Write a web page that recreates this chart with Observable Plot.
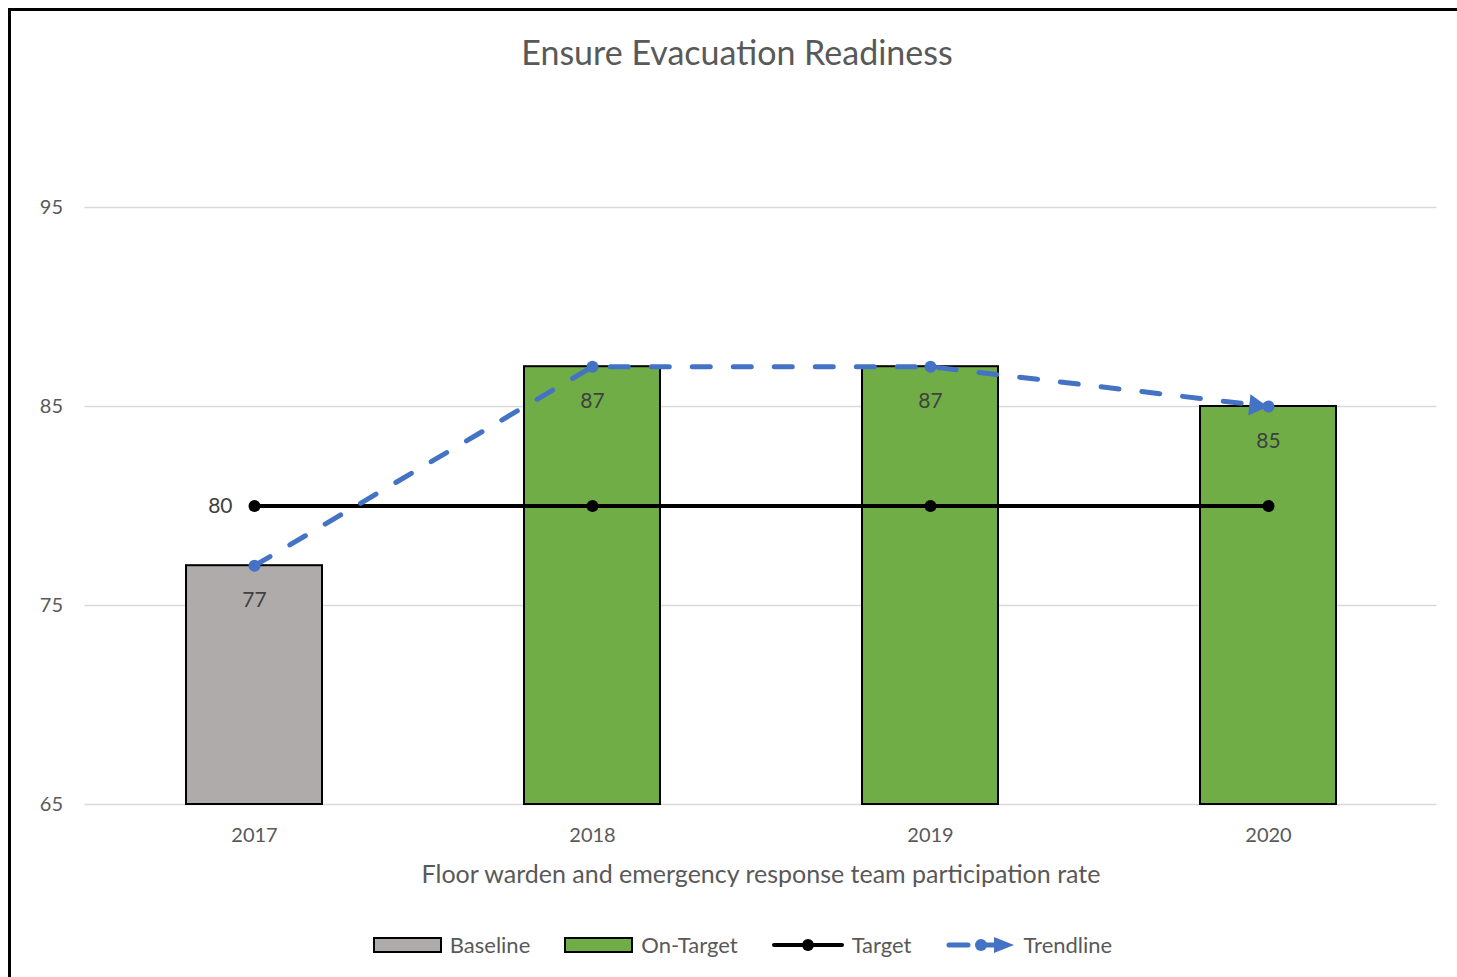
<!DOCTYPE html>
<html>
<head>
<meta charset="utf-8">
<script src="https://cdn.jsdelivr.net/npm/d3@7"></script>
<script src="https://cdn.jsdelivr.net/npm/@observablehq/plot@0.6"></script>
<style>
  html, body { margin: 0; padding: 0; background: #fff; }
  body { position: relative; width: 1457px; height: 977px; overflow: hidden; font-family: Lato, "Open Sans", sans-serif; color: #595959; }
  #frame { position: absolute; left: 8px; top: 8px; width: 2000px; height: 2000px; border-left: 3px solid #000; border-top: 3px solid #000; }
  #title { position: absolute; top: 32px; left: 0; width: 1457px; box-sizing: border-box; padding-left: 17px; text-align: center; font-size: 34px; line-height: 40px; color: #595959; }
  #chart { position: absolute; top: 90px; left: 0; }
  #legend { position: absolute; top: 931px; left: 0; width: 1457px; box-sizing: border-box; padding-left: 28px; display: flex; justify-content: center; align-items: center; gap: 34px; font-size: 22px; color: #595959; }
  .item { display: flex; align-items: center; gap: 8px; }
  .item svg { display: block; }
</style>
</head>
<body>
<div id="frame"></div>
<div id="title">Ensure Evacuation Readiness</div>
<div id="chart"></div>
<div id="legend"></div>
<script>
const years = ["2017", "2018", "2019", "2020"];
const values = [77, 87, 87, 85];
const status = ["Baseline", "On-Target", "On-Target", "On-Target"];
const targets = [80, 80, 80, 80];
const trend = [77, 87, 87, 85];
const yTicks = [65, 75, 85, 95];
const xLabel = "Floor warden and emergency response team participation rate";
const seriesNames = ["Baseline", "On-Target", "Target", "Trendline"];

const GRAY = "#AFABAB", GREEN = "#70AD47", BLUE = "#4472C4", TXT = "#595959";

const data = years.map((y, i) => ({year: y, value: values[i], status: status[i], target: targets[i], trend: trend[i]}));

const chart = Plot.plot({
  width: 1457,
  height: 800,
  marginLeft: 84.5,
  marginRight: 20.5,
  marginTop: 17.5,
  marginBottom: 86,
  style: {fontFamily: "Lato, 'Open Sans', sans-serif", color: TXT, background: "transparent"},
  x: {type: "band", domain: years, padding: 0, label: null},
  y: {domain: [65, 100], label: null},
  color: {domain: ["Baseline", "On-Target"], range: [GRAY, GREEN]},
  marks: [
    Plot.gridY(yTicks, {stroke: "#D9D9D9", strokeOpacity: 1, strokeWidth: 1.5}),
    Plot.axisY(yTicks, {tickSize: 0, tickPadding: 22, fontSize: 20, fill: TXT, label: null}),
    Plot.axisX({tickSize: 0, tickPadding: 23, fontSize: 20, fill: TXT, label: null}),
    Plot.barY(data, {x: "year", y1: 65, y2: "value", fill: "status", stroke: "#000", strokeWidth: 2, insetLeft: 101, insetRight: 101}),
    Plot.text(data, {x: "year", y: "value", text: d => String(d.value), dy: 35, fontSize: 21, fill: "#404040"}),
    Plot.line(data, {x: "year", y: "target", stroke: "#000", strokeWidth: 4}),
    Plot.dot(data, {x: "year", y: "target", r: 6, fill: "#000"}),
    Plot.text(data.slice(0, 1), {x: "year", y: "target", text: d => String(d.target), textAnchor: "end", dx: -22, fontSize: 21, fill: "#404040"}),
    Plot.line(data, {x: "year", y: "trend", stroke: BLUE, strokeWidth: 5, strokeDasharray: "18 23", strokeLinecap: "round"}),
    Plot.dot(data, {x: "year", y: "trend", r: 6, fill: BLUE}),
    Plot.dot(data.slice(-1), {x: "year", y: "trend", symbol: "triangle", r: 8, fill: BLUE, rotate: 96, dx: -13, dy: -1}),
    Plot.text([xLabel], {frameAnchor: "bottom", dy: 78, fontSize: 25, fill: TXT})
  ]
});
document.getElementById("chart").appendChild(chart);

// Legend
const legend = document.getElementById("legend");
const swatches = {
  "Baseline": `<svg width="69" height="16"><rect x="1" y="1" width="67" height="14" fill="${GRAY}" stroke="#000" stroke-width="2"/></svg>`,
  "On-Target": `<svg width="69" height="16"><rect x="1" y="1" width="67" height="14" fill="${GREEN}" stroke="#000" stroke-width="2"/></svg>`,
  "Target": `<svg width="72" height="16"><line x1="2" y1="8" x2="70" y2="8" stroke="#000" stroke-width="4" stroke-linecap="round"/><circle cx="36" cy="8" r="6" fill="#000"/></svg>`,
  "Trendline": `<svg width="70" height="18"><line x1="3" y1="9" x2="22" y2="9" stroke="${BLUE}" stroke-width="5" stroke-linecap="round"/><line x1="34" y1="9" x2="52" y2="9" stroke="${BLUE}" stroke-width="5"/><circle cx="35" cy="9" r="6" fill="${BLUE}"/><polygon points="48,1 68,9 48,17" fill="${BLUE}"/></svg>`
};
seriesNames.forEach(name => {
  const it = document.createElement("div");
  it.className = "item";
  it.innerHTML = swatches[name] + `<span>${name}</span>`;
  legend.appendChild(it);
});
</script>
</body>
</html>
